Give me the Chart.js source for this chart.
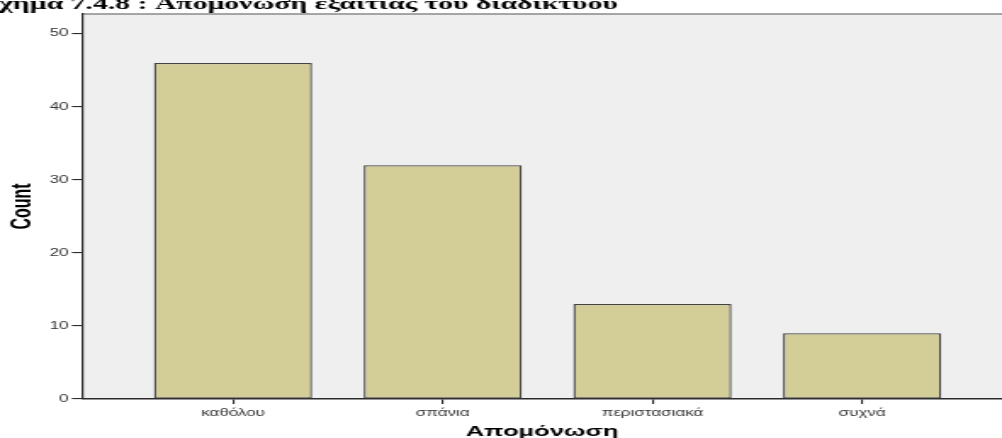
<!DOCTYPE html>
<html>
<head>
<meta charset="utf-8">
<script src="https://cdn.jsdelivr.net/npm/chart.js@4.4.1/dist/chart.umd.min.js"></script>
<style>
  html, body { margin:0; padding:0; background:#fff; overflow:hidden; }
  /* the source image is stretched sideways, so draw narrow and stretch */
  #wrap { position:relative; width:590px; height:438px; transform:scaleX(1.6983); transform-origin:0 0; }
</style>
</head>
<body>
<div id="wrap"><canvas id="c" width="590" height="438"></canvas></div>
<script>
const CATEGORIES = ['καθόλου', 'σπάνια', 'περιστασιακά', 'συχνά'];
const COUNTS = [46, 32, 13, 9];
const Y_TICKS = [0, 10, 20, 30, 40, 50];
const TITLE = 'χήμα 7.4.8 : Απομόνωση εξαιτίας του διαδικτύου';
const X_TITLE = 'Απομόνωση';
const Y_TITLE = 'Count';

const AXIS = '#2b2b2b';
const TICK_TXT = '#333';
const SANS = '"Liberation Sans", Arial, sans-serif';

const plotBg = {
  id: 'plotBg',
  beforeDraw(chart){
    const { ctx, chartArea:a } = chart;
    ctx.save();
    ctx.fillStyle = '#efefef';
    ctx.fillRect(a.left, a.top, a.right - a.left, a.bottom - a.top);
    ctx.strokeStyle = '#8a8a8a';
    ctx.lineWidth = 1.6;
    ctx.beginPath();
    ctx.moveTo(a.left, a.top);
    ctx.lineTo(a.right, a.top);
    ctx.stroke();
    ctx.restore();
  },
  afterDraw(chart){
    const { ctx } = chart;
    ctx.save();
    ctx.fillStyle = '#000';
    ctx.font = 'bold 17.5px "Liberation Serif", "DejaVu Serif", serif';
    ctx.textBaseline = 'alphabetic';
    ctx.textAlign = 'left';
    ctx.fillText(TITLE, -0.5, 9);
    ctx.restore();
  }
};

new Chart(document.getElementById('c'), {
  type: 'bar',
  data: {
    datasets: [{
      data: COUNTS.map((v, i) => ({ x: i + 1, y: v })),
      backgroundColor: '#d3ce98',
      borderColor: '#444',
      borderWidth: 1.3,
      borderSkipped: false,
      barPercentage: 0.754,
      categoryPercentage: 1,
    }],
  },
  options: {
    responsive: false,
    animation: false,
    layout: { padding: { top: 14, right: 0, left: 0, bottom: 0 } },
    plugins: {
      legend: { display: false },
      tooltip: { enabled: false },
    },
    scales: {
      x: {
        type: 'linear',
        offset: false,
        min: 0.28,
        max: 4.667,
        afterBuildTicks: (s) => { s.ticks = CATEGORIES.map((_, i) => ({ value: i + 1 })); },
        afterFit: (s) => { s.height = 39; },
        grid: { offset: false, drawOnChartArea: false, tickLength: 5, color: AXIS, lineWidth: 1.1 },
        border: { display: true, color: AXIS, width: 1.5 },
        ticks: {
          color: TICK_TXT,
          padding: 3,
          maxRotation: 0,
          autoSkip: false,
          font: { family: SANS, size: 10 },
          callback: (v) => CATEGORIES[v - 1] ?? '',
        },
        title: {
          display: true,
          text: X_TITLE,
          color: '#000',
          padding: { top: 0, bottom: -3 },
          font: { family: SANS, size: 15, weight: 'bold' },
        },
      },
      y: {
        min: 0,
        max: 52.7,
        afterBuildTicks: (s) => { s.ticks = Y_TICKS.map(v => ({ value: v })); },
        afterFit: (s) => { s.width = 48.3; },
        grid: { drawOnChartArea: false, tickLength: 6, color: AXIS, lineWidth: 1.1 },
        border: { display: true, color: AXIS, width: 1.2 },
        ticks: {
          color: TICK_TXT,
          padding: 2,
          font: { family: SANS, size: 10 },
        },
        title: {
          display: true,
          text: Y_TITLE,
          color: '#000',
          padding: { top: 4, bottom: 0 },
          font: { family: SANS, size: 16, weight: 'bold' },
        },
      },
    },
  },
  plugins: [plotBg],
});
</script>
</body>
</html>
